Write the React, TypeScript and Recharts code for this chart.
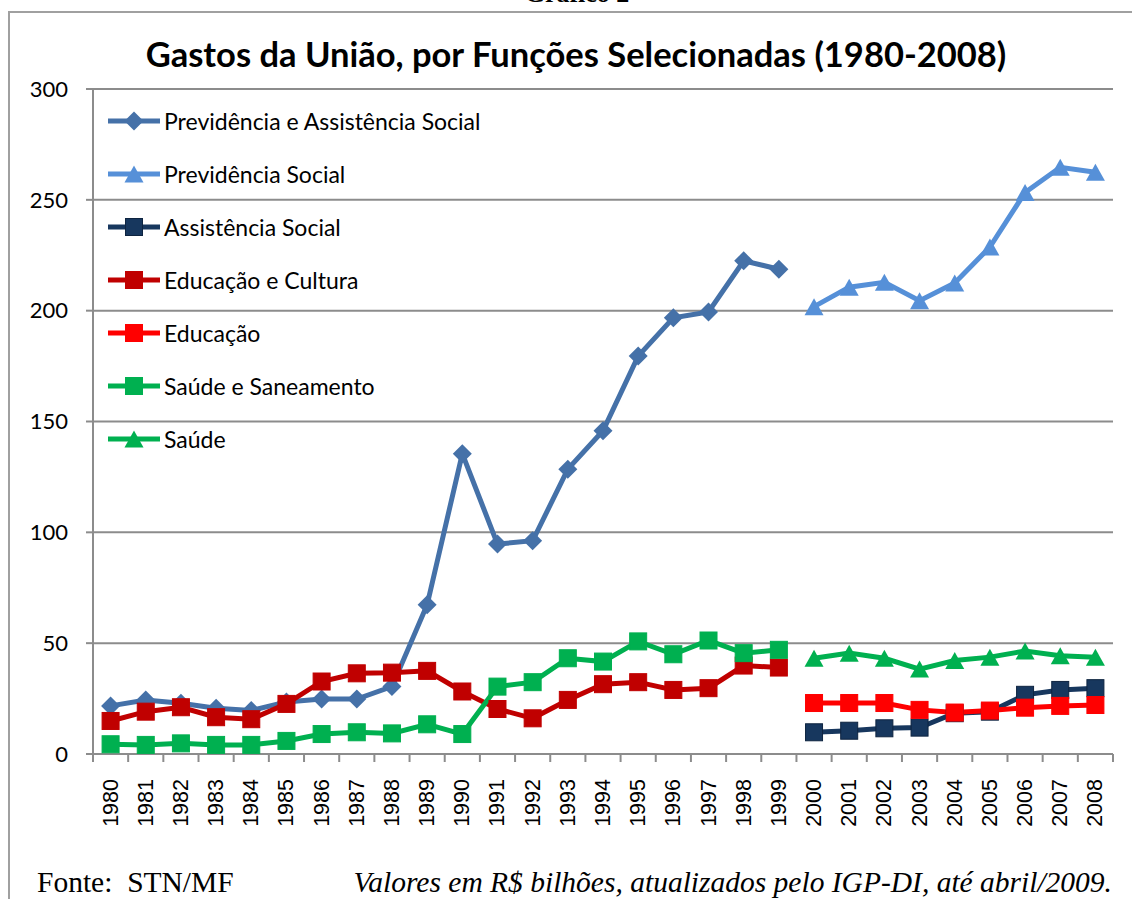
import { CartesianGrid, Legend, Line, LineChart, XAxis, YAxis } from "recharts";

const YEARS = [
  "1980", "1981", "1982", "1983", "1984", "1985", "1986", "1987", "1988", "1989",
  "1990", "1991", "1992", "1993", "1994", "1995", "1996", "1997", "1998", "1999",
  "2000", "2001", "2002", "2003", "2004", "2005", "2006", "2007", "2008",
];

// valores em R$ bilhões
const PREV_ASSIST = [
  21.7, 24.4, 22.9, 20.6, 19.6, 23.5, 24.8, 24.8, 30.4, 67.3,
  135.5, 94.7, 96.2, 128.5, 145.8, 179.5, 196.8, 199.4, 222.5, 218.7,
  null, null, null, null, null, null, null, null, null,
];
const PREV_SOCIAL = [
  null, null, null, null, null, null, null, null, null, null,
  null, null, null, null, null, null, null, null, null, null,
  201.8, 210.6, 212.8, 204.5, 212.5, 228.7, 253.3, 264.7, 262.4,
];
const ASSIST = [
  null, null, null, null, null, null, null, null, null, null,
  null, null, null, null, null, null, null, null, null, null,
  9.8, 10.5, 11.6, 11.9, 18.4, 19.1, 26.7, 28.9, 29.7,
];
const EDU_CULT = [
  14.9, 19.1, 21.1, 16.6, 15.7, 22.6, 32.7, 36.4, 36.7, 37.5,
  28.2, 20.3, 16.1, 24.4, 31.5, 32.4, 28.9, 29.7, 39.9, 39.0,
  null, null, null, null, null, null, null, null, null,
];
const EDU = [
  null, null, null, null, null, null, null, null, null, null,
  null, null, null, null, null, null, null, null, null, null,
  23.0, 23.0, 23.0, 19.9, 18.7, 19.6, 20.9, 21.7, 22.1,
];
const SAUDE_SAN = [
  4.4, 4.1, 4.8, 4.1, 4.1, 5.9, 9.0, 9.8, 9.3, 13.4,
  9.0, 30.4, 32.4, 43.2, 41.7, 50.8, 45.0, 51.2, 45.5, 47.0,
  null, null, null, null, null, null, null, null, null,
];
const SAUDE = [
  null, null, null, null, null, null, null, null, null, null,
  null, null, null, null, null, null, null, null, null, null,
  43.2, 45.5, 43.2, 38.3, 42.2, 43.7, 46.5, 44.3, 43.7,
];

const Y_TICKS = [0, 50, 100, 150, 200, 250, 300];

type Shape = "diamond" | "triangle" | "square";

const SERIES: { key: string; name: string; color: string; shape: Shape; values: (number | null)[] }[] = [
  { key: "prevAssist", name: "Previdência e Assistência Social", color: "#4571a8", shape: "diamond", values: PREV_ASSIST },
  { key: "prevSocial", name: "Previdência Social", color: "#5690d8", shape: "triangle", values: PREV_SOCIAL },
  { key: "assist", name: "Assistência Social", color: "#17375e", shape: "square", values: ASSIST },
  { key: "eduCult", name: "Educação e Cultura", color: "#c00000", shape: "square", values: EDU_CULT },
  { key: "edu", name: "Educação", color: "#ff0000", shape: "square", values: EDU },
  { key: "saudeSan", name: "Saúde e Saneamento", color: "#00b050", shape: "square", values: SAUDE_SAN },
  { key: "saude", name: "Saúde", color: "#00b050", shape: "triangle", values: SAUDE },
];

const data = YEARS.map((year, i) => {
  const row: Record<string, string | number | null> = { year };
  SERIES.forEach((s) => {
    row[s.key] = s.values[i];
  });
  return row;
});

const W = 1132;
const H = 899;
const PLOT_LEFT = 93;
const PLOT_RIGHT = 1113;
const PLOT_TOP = 89;
const PLOT_BOTTOM = 754;
const BAND = (PLOT_RIGHT - PLOT_LEFT) / YEARS.length;
const GRID = "#8c8c8c";

function Marker({ shape, color, cx, cy }: { shape: Shape; color: string; cx: number; cy: number }) {
  if (shape === "diamond") {
    const r = 9.5;
    return <polygon points={`${cx},${cy - r} ${cx + r},${cy} ${cx},${cy + r} ${cx - r},${cy}`} fill={color} />;
  }
  if (shape === "triangle") {
    const w = 9.5;
    const h = 8.5;
    return <polygon points={`${cx},${cy - h} ${cx + w},${cy + h} ${cx - w},${cy + h}`} fill={color} />;
  }
  const s = 8.5;
  return (
    <rect
      x={cx - s}
      y={cy - s}
      width={s * 2}
      height={s * 2}
      fill={color}
      stroke={color === "#17375e" ? "#0e2440" : color}
      strokeWidth={1}
    />
  );
}

function YearTick(props: any) {
  const { x, y, payload, index } = props;
  const left = x - BAND / 2;
  return (
    <g>
      <line x1={left} y1={y} x2={left} y2={y + 8} stroke={GRID} strokeWidth={2} />
      {index === YEARS.length - 1 && (
        <line x1={x + BAND / 2} y1={y} x2={x + BAND / 2} y2={y + 8} stroke={GRID} strokeWidth={2} />
      )}
      <text
        x={x}
        y={y + 25}
        transform={`rotate(-90, ${x}, ${y + 25})`}
        textAnchor="end"
        dominantBaseline="central"
        fontFamily="'Liberation Sans', Arial, sans-serif"
        fontSize={21.5}
        fill="#000"
      >
        {payload.value}
      </text>
    </g>
  );
}

function LegendBox() {
  return (
    <div style={{ fontFamily: "Lato, 'Open Sans', sans-serif", fontSize: 23, color: "#000" }}>
      {SERIES.map((s) => (
        <div key={s.key} style={{ display: "flex", alignItems: "center", height: 53 }}>
          <svg width={56} height={24} style={{ display: "block" }}>
            <line x1={0} y1={12} x2={52} y2={12} stroke={s.color} strokeWidth={5} />
            <Marker shape={s.shape} color={s.color} cx={26} cy={12} />
          </svg>
          <span style={{ whiteSpace: "nowrap", lineHeight: "24px" }}>{s.name}</span>
        </div>
      ))}
    </div>
  );
}

export default function App() {
  return (
    <div
      style={{
        position: "absolute",
        left: 0,
        top: 0,
        width: W,
        height: H,
        overflow: "hidden",
        background: "#fff",
      }}
    >
      <div
        style={{
          position: "absolute",
          left: 0,
          right: 0,
          top: -19,
          textAlign: "center",
          paddingLeft: 22,
          fontFamily: "'Liberation Serif', 'Times New Roman', serif",
          fontWeight: "bold",
          fontSize: 26,
          lineHeight: "26px",
        }}
      >
        Gráfico 2
      </div>
      <div
        style={{
          position: "absolute",
          left: 8,
          top: 11,
          width: W,
          height: H,
          borderTop: "2px solid #a0a0a0",
          borderLeft: "2px solid #a0a0a0",
          boxSizing: "border-box",
        }}
      />
      <div
        style={{
          position: "absolute",
          left: 0,
          width: 1152,
          top: 33,
          textAlign: "center",
          fontFamily: "Lato, 'Open Sans', sans-serif",
          fontWeight: "bold",
          fontSize: 34.5,
          lineHeight: "42px",
          whiteSpace: "nowrap",
        }}
      >
        Gastos da União, por Funções Selecionadas (1980-2008)
      </div>
      <div style={{ position: "absolute", left: 0, top: 0 }}>
        <LineChart
          width={W}
          height={H}
          data={data}
          margin={{ top: PLOT_TOP, right: W - PLOT_RIGHT, left: PLOT_LEFT - 60, bottom: H - PLOT_BOTTOM - 100 }}
        >
          <CartesianGrid vertical={false} stroke={GRID} strokeWidth={2} />
          <XAxis
            dataKey="year"
            height={100}
            padding={{ left: BAND / 2, right: BAND / 2 }}
            interval={0}
            tickLine={false}
            tickSize={0}
            tickMargin={0}
            axisLine={{ stroke: GRID, strokeWidth: 2 }}
            tick={<YearTick />}
          />
          <YAxis
            width={60}
            domain={[0, 300]}
            ticks={Y_TICKS}
            tickSize={7}
            tickMargin={18}
            tickLine={{ stroke: GRID, strokeWidth: 2 }}
            axisLine={{ stroke: GRID, strokeWidth: 2 }}
            tick={{ fill: "#000", fontSize: 22, fontFamily: "Lato, 'Open Sans', sans-serif" }}
          />
          <Legend
            layout="vertical"
            align="center"
            verticalAlign="middle"
            wrapperStyle={{ left: 108, top: 94, width: 440, height: 371 }}
            content={() => <LegendBox />}
          />
          {SERIES.map((s) => (
            <Line
              key={s.key}
              type="linear"
              dataKey={s.key}
              name={s.name}
              stroke={s.color}
              strokeWidth={5}
              connectNulls={false}
              isAnimationActive={false}
              activeDot={false}
              dot={(p: any) =>
                p.cy == null || p.value == null ? (
                  <g key={`${s.key}-${p.index}`} />
                ) : (
                  <g key={`${s.key}-${p.index}`}>
                    <Marker shape={s.shape} color={s.color} cx={p.cx} cy={p.cy} />
                  </g>
                )
              }
            />
          ))}
        </LineChart>
      </div>
      <div
        style={{
          position: "absolute",
          left: 37,
          top: 865,
          fontFamily: "'Liberation Serif', 'Times New Roman', serif",
          fontSize: 29.5,
          lineHeight: "34px",
          whiteSpace: "pre",
        }}
      >
        {"Fonte:  STN/MF"}
      </div>
      <div
        style={{
          position: "absolute",
          right: 20,
          top: 865,
          fontFamily: "'Liberation Serif', 'Times New Roman', serif",
          fontStyle: "italic",
          fontSize: 29.5,
          lineHeight: "34px",
          whiteSpace: "nowrap",
        }}
      >
        Valores em R$ bilhões, atualizados pelo IGP-DI, até abril/2009.
      </div>
    </div>
  );
}
